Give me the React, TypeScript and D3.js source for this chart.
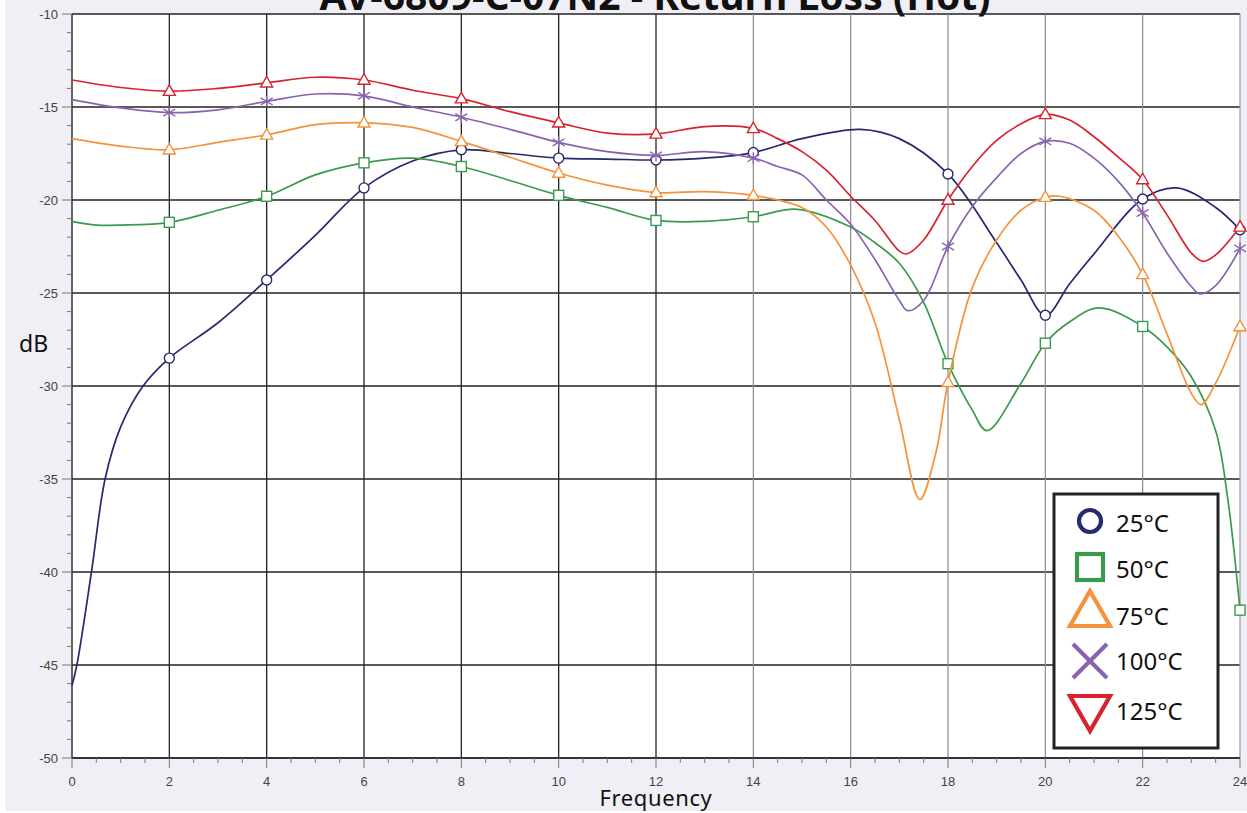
import React from "react";
import * as d3 from "d3";

// ---------- data ----------
const freqTicks = [0, 2, 4, 6, 8, 10, 12, 14, 16, 18, 20, 22, 24];
const dbTicks = [-10, -15, -20, -25, -30, -35, -40, -45, -50];
const markerFreqs = [2, 4, 6, 8, 10, 12, 14, 18, 20, 22, 24];

const f25 = [0, 0.1, 0.4, 0.68, 1.0, 1.46, 2, 3, 4, 5, 6, 7, 8, 9, 10, 11, 12, 13, 14, 15, 16.2, 17, 18, 19, 19.5, 20, 20.5, 21, 22, 22.7, 23.5, 24];
const v25 = [-46.1, -45, -40, -35, -32.2, -30, -28.5, -26.6, -24.3, -21.9, -19.35, -17.9, -17.3, -17.5, -17.75, -17.8, -17.85, -17.75, -17.45, -16.7, -16.2, -16.7, -18.6, -22.3, -24.3, -26.2, -24.5, -22.9, -19.95, -19.35, -20.4, -21.6];

const f50 = [0, 0.5, 1, 2, 3, 4, 5, 6, 7, 8, 9, 10, 11, 12, 13, 14, 14.9, 16, 16.5, 17, 17.5, 18, 18.5, 18.8, 19.5, 20, 20.5, 21.1, 22, 22.5, 23, 23.5, 23.75, 24];
const v50 = [-21.15, -21.35, -21.35, -21.2, -20.55, -19.8, -18.65, -18.0, -17.75, -18.2, -18.95, -19.75, -20.4, -21.1, -21.15, -20.9, -20.5, -21.45, -22.3, -23.4, -25.5, -28.8, -31.3, -32.4, -29.85, -27.7, -26.55, -25.8, -26.8, -27.9, -29.5, -32.4, -36.1, -42.05];

const f75 = [0, 1, 2, 3, 4, 5, 6, 7, 8, 9, 10, 11, 12, 13, 14, 15, 15.5, 16, 16.5, 17, 17.42, 17.75, 18, 18.5, 19, 19.5, 20, 20.3, 21, 21.5, 22, 22.5, 23, 23.2, 23.5, 24];
const v75 = [-16.7, -17.1, -17.3, -16.9, -16.5, -15.95, -15.85, -16.1, -16.85, -17.7, -18.55, -19.2, -19.6, -19.55, -19.75, -20.4, -21.45, -23.5, -26.6, -31.8, -36.1, -33.6, -29.8, -24.7, -22.15, -20.55, -19.85, -19.8, -20.55, -21.95, -24.0, -27.2, -30.4, -31.0, -29.85, -26.8];

const f100 = [0, 1, 2, 3, 4, 5, 6, 7, 8, 9, 10, 11, 12, 13, 14, 14.5, 15, 15.5, 16, 16.5, 17, 17.17, 17.5, 18, 18.5, 19, 19.5, 20, 20.5, 21, 21.5, 22, 22.5, 23, 23.18, 23.5, 24];
const v100 = [-14.6, -15.05, -15.3, -15.15, -14.7, -14.3, -14.4, -15.0, -15.55, -16.2, -16.9, -17.4, -17.6, -17.4, -17.75, -18.2, -18.65, -20.0, -21.3, -23.2, -25.4, -25.95, -25.4, -22.5, -20.35, -18.8, -17.5, -16.85, -16.95, -17.75, -19.0, -20.7, -22.85, -24.65, -25.05, -24.6, -22.6];

const f125 = [0, 1, 2, 3, 4, 5, 6, 7, 8, 9, 10, 11, 12, 13, 14, 14.5, 15, 15.5, 16, 16.5, 17, 17.15, 17.5, 18, 18.5, 19, 19.5, 20, 20.5, 21, 21.5, 22, 22.5, 23, 23.24, 23.5, 24];
const v125 = [-13.55, -13.95, -14.15, -14.0, -13.7, -13.4, -13.55, -14.1, -14.55, -15.25, -15.85, -16.4, -16.45, -16.05, -16.15, -16.7, -17.4, -18.4, -19.8, -21.1, -22.75, -22.9, -22.15, -20.0, -18.2, -16.8, -15.9, -15.4, -15.7, -16.6, -17.7, -18.9, -20.8, -22.85, -23.3, -22.95, -21.45];

const seriesLabels = ["25°C", "50°C", "75°C", "100°C", "125°C"];
const seriesColors = ["#27296e", "#3a9a4e", "#f5923a", "#8a63b0", "#d8232f"];
const seriesShapes = ["circle", "square", "triUp", "star", "triUp"];
const legendShapes = ["circle", "square", "triUp", "cross", "triDown"];

const seriesData = [
  [f25, v25],
  [f50, v50],
  [f75, v75],
  [f100, v100],
  [f125, v125],
];

// ---------- layout ----------
const W = 1247;
const H = 813;
const L = 72, R = 1240, T = 14, B = 758;

const x = d3.scaleLinear().domain([0, 24]).range([L, R]);
const y = d3.scaleLinear().domain([-50, -10]).range([B, T]);

function Marker({ shape, cx, cy, color, s, sw }: any) {
  if (shape === "circle") return <circle cx={cx} cy={cy} r={s} fill="#fff" stroke={color} strokeWidth={sw} />;
  if (shape === "square") return <rect x={cx - s} y={cy - s} width={2 * s} height={2 * s} fill="#fff" stroke={color} strokeWidth={sw} />;
  if (shape === "triUp") {
    const h = s * 1.75;
    return <path d={`M${cx},${cy - h * 0.6} L${cx + s},${cy + h * 0.4} L${cx - s},${cy + h * 0.4} Z`} fill="#fff" stroke={color} strokeWidth={sw} strokeLinejoin="miter" />;
  }
  if (shape === "triDown") {
    const h = s * 1.75;
    return <path d={`M${cx},${cy + h * 0.6} L${cx + s},${cy - h * 0.4} L${cx - s},${cy - h * 0.4} Z`} fill="#fff" stroke={color} strokeWidth={sw} />;
  }
  if (shape === "cross") {
    return <path d={`M${cx - s},${cy - s} L${cx + s},${cy + s} M${cx - s},${cy + s} L${cx + s},${cy - s}`} stroke={color} strokeWidth={sw} />;
  }
  // asterisk
  return <path d={`M${cx - s},${cy - s * 0.6} L${cx + s},${cy + s * 0.6} M${cx - s},${cy + s * 0.6} L${cx + s},${cy - s * 0.6} M${cx},${cy - s} L${cx},${cy + s}`} stroke={color} strokeWidth={sw} />;
}

export default function App() {
  const line = d3
    .line<[number, number]>()
    .x((d) => x(d[0]))
    .y((d) => y(d[1]))
    .curve(d3.curveCatmullRom.alpha(0.5));

  const minorY = d3.range(-50, -9, 1);
  const minorX = d3.range(0, 24.01, 0.5);
  const tickFont = "'Liberation Sans Narrow', 'Liberation Sans', Arial, sans-serif";

  return (
    <svg width={W} height={H} style={{ position: "absolute", left: 0, top: 0 }} fontFamily="'Noto Sans', sans-serif">
      <rect x={0} y={0} width={W} height={H} fill="#fff" />
      <rect x={5} y={0} width={W - 5} height={811} fill="#efeff5" />
      <rect x={L} y={T} width={R - L} height={B - T} fill="#fff" />

      {/* title (cut off at the top) */}
      <text x={655} y={10} textAnchor="middle" fontSize={39} fontWeight={700} fill="#111">
        AV-6809-C-07N2 - Return Loss (Hot)
      </text>

      {/* grid */}
      {dbTicks.map((t) => (
        <line key={"gy" + t} x1={L} x2={R} y1={y(t)} y2={y(t)} stroke="#222" strokeWidth={1.3} />
      ))}
      {freqTicks.slice(1, -1).map((t) => (
        <line key={"gx" + t} x1={x(t)} x2={x(t)} y1={T} y2={B} stroke={t <= 12 ? "#222" : "#8a8a8a"} strokeWidth={t <= 12 ? 1.3 : 1.2} />
      ))}
      <line x1={R} x2={R} y1={T} y2={B} stroke="#999" strokeWidth={1.2} />

      {/* axes */}
      <line x1={L} x2={L} y1={T} y2={B} stroke="#333" strokeWidth={1.5} />
      <line x1={L} x2={R} y1={B} y2={B} stroke="#333" strokeWidth={2} />
      {minorY.map((t) => (
        <line key={"my" + t} x1={t % 5 === 0 ? L - 10 : L - 5} x2={L} y1={y(t)} y2={y(t)} stroke="#777" strokeWidth={1} />
      ))}
      {minorX.map((t) => (
        <line key={"mx" + t} x1={x(t)} x2={x(t)} y1={B} y2={t % 2 === 0 ? B + 10 : B + 5} stroke="#777" strokeWidth={1} />
      ))}
      {dbTicks.map((t) => (
        <text key={"ty" + t} x={L - 14} y={y(t) + 4.5} textAnchor="end" fontSize={13} fontFamily={tickFont} fill="#444">
          {t}
        </text>
      ))}
      {freqTicks.map((t) => (
        <text key={"tx" + t} x={x(t)} y={786} textAnchor="middle" fontSize={13} fontFamily={tickFont} fill="#444">
          {t}
        </text>
      ))}

      <text x={19} y={352} fontSize={23} fill="#111">dB</text>
      <text x={656} y={806} textAnchor="middle" fontSize={22} fill="#111" letterSpacing={0.6}>Frequency</text>

      {/* series */}
      {seriesData.map(([fs, vs], i) => {
        const pts = fs.map((f, k) => [f, vs[k]] as [number, number]);
        return (
          <g key={"s" + i}>
            <path d={line(pts) || ""} fill="none" stroke={seriesColors[i]} strokeWidth={1.7} />
            {markerFreqs.map((mf) => {
              const k = fs.indexOf(mf);
              if (k < 0) return null;
              return <Marker key={mf} shape={seriesShapes[i]} cx={x(mf)} cy={y(vs[k])} color={seriesColors[i]} s={seriesShapes[i] === "square" ? 5 : seriesShapes[i] === "circle" ? 5 : 6} sw={1.4} />;
            })}
          </g>
        );
      })}

      {/* legend */}
      <rect x={1054} y={494} width={164} height={254} fill="#fff" stroke="#222" strokeWidth={3} />
      {seriesLabels.map((lab, i) => {
        const cy = [521, 567, 612, 661, 710][i];
        return (
          <g key={"lg" + i}>
            <Marker shape={legendShapes[i]} cx={1090} cy={cy} color={seriesColors[i]} s={legendShapes[i] === "circle" ? 11 : legendShapes[i] === "square" ? 13 : legendShapes[i] === "cross" ? 17 : 20} sw={4.2} />
            <text x={1116} y={[532, 578, 625, 670, 720][i]} fontSize={24} fill="#111">
              {lab}
            </text>
          </g>
        );
      })}
    </svg>
  );
}
